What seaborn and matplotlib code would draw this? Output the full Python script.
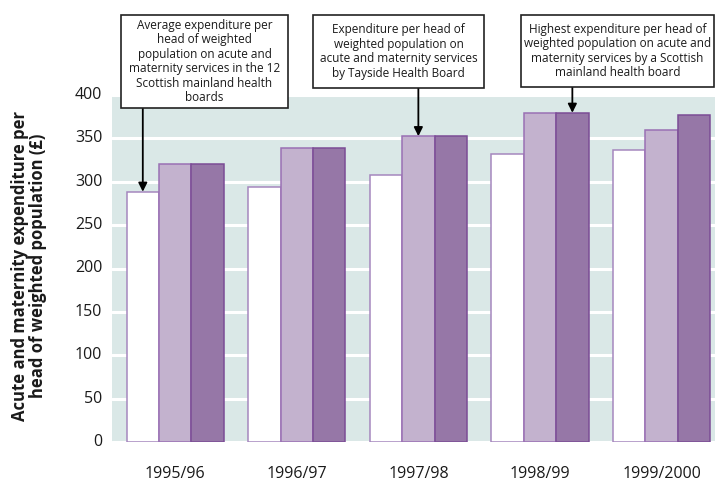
import matplotlib
matplotlib.use("Agg")
import matplotlib.pyplot as plt
from matplotlib.patches import Rectangle
import seaborn as sns
import pandas as pd

# ---- data ----
years = ["1995/96", "1996/97", "1997/98", "1998/99", "1999/2000"]
series_names = ["Scottish mainland average", "Tayside Health Board", "Highest mainland board"]
average_vals = [288.5, 293.5, 307.5, 332.5, 336.5]
tayside_vals = [320, 338.5, 352.5, 379.5, 360]
highest_vals = [320, 338.5, 352.5, 379.5, 376.5]
y_ticks = [0, 50, 100, 150, 200, 250, 300, 350, 400]
y_label = "Acute and maternity expenditure per\nhead of weighted population (\u00a3)"
box_texts = [
    "Average expenditure per\nhead of weighted\npopulation on acute and\nmaternity services in the 12\nScottish mainland health\nboards",
    "Expenditure per head of\nweighted population on\nacute and maternity services\nby Tayside Health Board",
    "Highest expenditure per head of\nweighted population on acute and\nmaternity services by a Scottish\nmainland health board",
]

df = pd.DataFrame({
    "year": years * 3,
    "series": [series_names[0]] * 5 + [series_names[1]] * 5 + [series_names[2]] * 5,
    "value": average_vals + tayside_vals + highest_vals,
})

sns.set_theme(style="white")
plt.rcParams["font.family"] = ["Open Sans", "DejaVu Sans"]

W, H = 715, 483
fig = plt.figure(figsize=(W / 100, H / 100), dpi=100)
ax = fig.add_axes([112 / W, 1 - 442 / H, (W - 112) / W, (442 - 95) / H])

face = ["#ffffff", "#c3b2ce", "#9677a7"]
edge = ["#a587be", "#9a70b4", "#7b4c96"]
sns.barplot(data=df, x="year", y="value", hue="series", hue_order=series_names,
            order=years, palette=face, width=0.8, linewidth=1.1,
            edgecolor="#8a5fa8", legend=False, ax=ax, saturation=1, zorder=3)
bars = [p for p in ax.patches if isinstance(p, Rectangle)]
for i, p in enumerate(bars):
    p.set_edgecolor(edge[i // len(years)])

ax.set_facecolor("#dae8e7")
for s in ax.spines.values():
    s.set_visible(False)
ax.set_ylim(0, 400)
ax.set_xlim(-0.52, 4.44)
ax.set_yticks(y_ticks)
ax.yaxis.grid(True, color="white", linewidth=2.2, zorder=0)
ax.set_axisbelow(True)
ax.tick_params(axis="both", length=0, labelsize=11.5, colors="#1a1a1a")
ax.tick_params(axis="y", pad=7)
ax.tick_params(axis="x", pad=17)
ax.set_xlabel("")
ax.set_ylabel("")
for lab in ax.get_yticklabels():
    lab.set_verticalalignment("center")

fig.text(29 / W, 1 - 266 / H, y_label, rotation=90, ha="center", va="center",
         fontsize=12, fontweight="bold", color="#1a1a1a", linespacing=1.0)

# annotation boxes (pixel layout)
boxes = [(121, 15, 288, 108), (313, 15, 484, 88), (521, 15, 714, 87)]
for (x0, y0, x1, y1), txt in zip(boxes, box_texts):
    fig.add_artist(Rectangle((x0 / W, 1 - y1 / H), (x1 - x0) / W, (y1 - y0) / H,
                             transform=fig.transFigure, facecolor="white",
                             edgecolor="#222222", linewidth=1.2, zorder=5))
    fig.text((x0 + x1) / 2 / W, 1 - (y0 + y1) / 2 / H, txt, ha="center", va="center",
             fontsize=8.5, color="#1a1a1a", linespacing=1.15, zorder=6)

# arrows to bars
offs = [-0.8 / 3, 0.0, 0.8 / 3]
targets = [(0, 0, average_vals[0], boxes[0][3]),
           (2, 1, tayside_vals[2], boxes[1][3]),
           (3, 2, highest_vals[3], boxes[2][3])]
for gi, si, val, ybox in targets:
    xd = gi + offs[si]
    ax.annotate("", xy=(xd, val), xycoords="data",
                xytext=(xd, 1 - ybox / H), textcoords=("data", "figure fraction"),
                arrowprops=dict(arrowstyle="-|>", color="black", lw=1.3,
                                mutation_scale=13, shrinkA=0, shrinkB=0),
                annotation_clip=False, zorder=6)

fig.savefig("out.png", dpi=100)
